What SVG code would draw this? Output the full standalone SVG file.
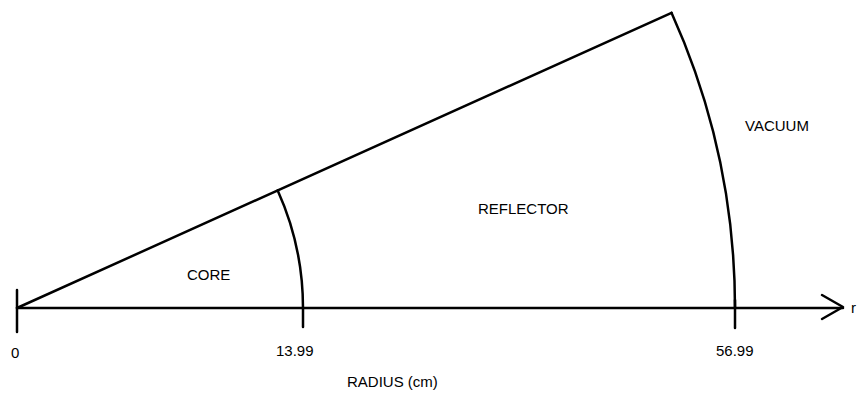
<svg xmlns="http://www.w3.org/2000/svg" width="859" height="393" viewBox="0 0 859 393">
<style>
.ln{fill:none;stroke:#000;stroke-width:2.5;stroke-linecap:round;stroke-linejoin:round}
.tx{font-family:"Liberation Sans",Arial,sans-serif;font-size:15px;fill:#000}
</style>
<rect width="859" height="393" fill="#fff"/>
<g id="connectors">
<path class="ln" d="M17,308 L843,308"/>
<path class="ln" d="M822,295 L843,307 L822,319"/>
<path class="ln" d="M17,308 L671.5,12.8"/>
<path class="ln" d="M17,290 L17,332"/>
<path class="ln" d="M303,308 L303,327"/>
<path class="ln" d="M735,300 L735,328"/>
</g>
<g id="core">
<path class="ln" d="M277.7,190.4 A286,286 0 0 1 303,308"/>
<text class="tx" x="187" y="280">CORE</text>
</g>
<g id="reflector">
<path class="ln" d="M671.5,12.8 A718,718 0 0 1 735,308"/>
<text class="tx" x="478" y="214">REFLECTOR</text>
</g>
<g id="vacuum">
<text class="tx" x="745" y="131">VACUUM</text>
</g>
<g id="axis-labels">
<text class="tx" x="11" y="358">0</text>
<text class="tx" x="276" y="356">13.99</text>
<text class="tx" x="716" y="356">56.99</text>
<text class="tx" x="347" y="387">RADIUS (cm)</text>
<text class="tx" x="851" y="313">r</text>
</g>
</svg>
